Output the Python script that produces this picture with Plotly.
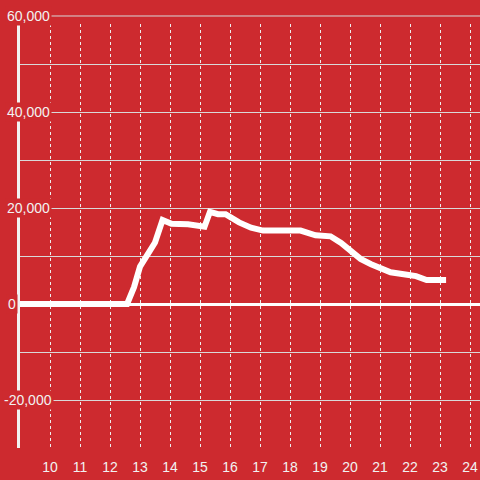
import plotly.graph_objects as go

hours = [9.0, 12.57, 12.8, 13.0, 13.5, 13.75, 14.05, 14.6, 15.15, 15.33, 15.6, 15.85,
         16.3, 16.7, 17.1, 18.35, 18.85, 19.35, 19.7, 20.0, 20.35, 20.7, 21.35,
         21.9, 22.2, 22.55, 23.2]
values = [0, 0, 3500, 7800, 12800, 17500, 16700, 16600, 16100, 19200, 18700, 18700,
          17000, 15900, 15300, 15300, 14300, 14100, 12700, 11000, 9400, 8300, 6600,
          6100, 5800, 5000, 5000]

y_ticks = [60000, 40000, 20000, 0, -20000]
y_labels = ["60,000", "40,000", "20,000", "0", "-20,000"]
x_ticks = list(range(10, 25))

BG = "#cd2a2f"
GRID = "#d9d9d9"
TXT = "#f2f2f2"
YMIN, YMAX = -30000, 58333

fig = go.Figure()
fig.add_trace(go.Scatter(x=hours, y=values, mode="lines",
                         line=dict(color="white", width=6), hoverinfo="skip"))

fig.update_layout(
    width=480, height=480,
    margin=dict(l=20, r=0, t=24, b=32),
    paper_bgcolor=BG, plot_bgcolor=BG,
    showlegend=False,
    font=dict(family="Liberation Sans, Arial, sans-serif", size=14, color=TXT),
)
fig.update_xaxes(range=[9, 24.33], tickvals=x_ticks, ticktext=[str(v) for v in x_ticks],
                 showgrid=True, gridcolor="#eeeeee", griddash="dot", gridwidth=1,
                 zeroline=False, showline=False, ticks="", ticklabelstandoff=9,
                 tickfont=dict(color=TXT, size=14))
fig.update_yaxes(range=[YMIN, YMAX], dtick=10000, tick0=0, showgrid=True,
                 gridcolor=GRID, gridwidth=1, showticklabels=False,
                 zeroline=True, zerolinecolor="white", zerolinewidth=3,
                 showline=True, linecolor="#f2f2f2", linewidth=3, ticks="")

# 60,000 gridline sits above the plotting area
top_frac = (60000 - YMIN) / (YMAX - YMIN)
fig.add_shape(type="line", xref="paper", yref="paper", x0=0, x1=1, y0=top_frac, y1=top_frac,
              line=dict(color=GRID, width=1))

for v, lab in zip(y_ticks, y_labels):
    frac = (v - YMIN) / (YMAX - YMIN)
    fig.add_annotation(xref="paper", yref="paper", x=0, y=frac, text=lab,
                       showarrow=False, xanchor="center", yanchor="middle",
                       xshift=(-8 if v == 0 else 8), bgcolor=BG, borderpad=1,
                       font=dict(color=TXT, size=14))

fig.write_html("out.html", config={"displayModeBar": False},
               post_script="document.body.style.margin='0';")
